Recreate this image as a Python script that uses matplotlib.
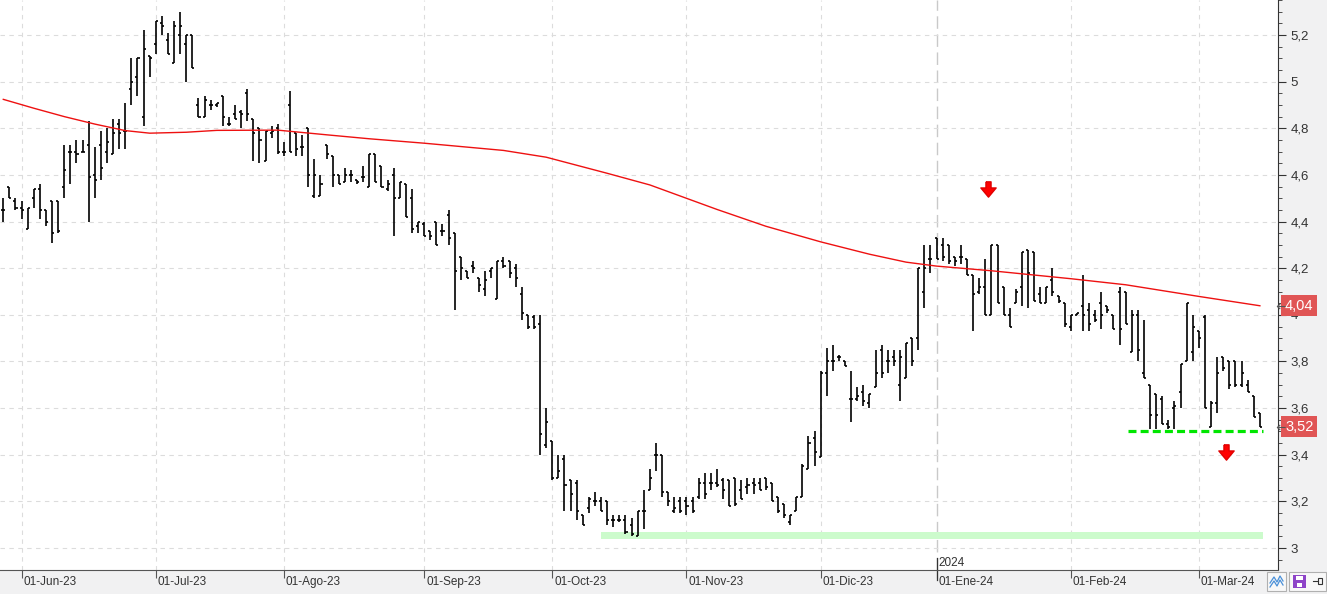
"""Gráfico de barras OHLC diario con media móvil, soporte y zona de mínimos."""
import matplotlib

matplotlib.use("Agg")
import matplotlib.pyplot as plt  # noqa: E402
import matplotlib.transforms as mtransforms  # noqa: E402
import numpy as np  # noqa: E402
import pandas as pd  # noqa: E402
from matplotlib.collections import LineCollection  # noqa: E402
from matplotlib.patches import Rectangle  # noqa: E402
from matplotlib.path import Path  # noqa: E402
from matplotlib.ticker import FuncFormatter, MultipleLocator  # noqa: E402

plt.rcParams["font.family"] = ["Liberation Sans", "DejaVu Sans"]

# --- datos ---------------------------------------------------------------
FIRST_DAY, LAST_DAY = "2023-05-29", "2024-03-15"
HOLIDAYS = ["2023-12-25", "2023-12-26", "2024-01-01"]

opens = [
    4.45, 4.55, 4.49, 4.46, 4.37, 4.50, 4.54, 4.45, 4.49, 4.49,
    4.55, 4.70, 4.70, 4.70, 4.73, 4.60, 4.73, 4.70, 4.69, 4.82,
    4.79, 4.97, 5.02, 4.85, 5.11, 5.16, 5.25, 5.18, 5.08, 5.20,
    5.16, 5.20, 4.90, 4.85, 4.90, 4.90, 4.94, 4.82, 4.86, 4.87,
    4.95, 4.84, 4.80, 4.66, 4.78, 4.80, 4.70, 4.90, 4.78, 4.72,
    4.80, 4.51, 4.51, 4.73, 4.68, 4.60, 4.57, 4.60, 4.58, 4.59,
    4.55, 4.69, 4.64, 4.54, 4.60, 4.50, 4.56, 4.50, 4.38, 4.39,
    4.36, 4.40, 4.36, 4.43, 4.35, 4.25, 4.19, 4.21, 4.16, 4.11,
    4.19, 4.07, 4.23, 4.23, 4.20, 4.09, 4.00, 3.99, 3.96, 3.44,
    3.46, 3.30, 3.38, 3.29, 3.28, 3.14, 3.17, 3.20, 3.20, 3.20,
    3.12, 3.12, 3.12, 3.10, 3.05, 3.16, 3.25, 3.40, 3.40, 3.24,
    3.16, 3.20, 3.20, 3.20, 3.22, 3.28, 3.28, 3.28, 3.29, 3.29,
    3.30, 3.25, 3.26, 3.28, 3.28, 3.30, 3.28, 3.22, 3.19, 3.11,
    3.16, 3.22, 3.34, 3.47, 3.39, 3.75, 3.80, 3.82, 3.80, 3.64,
    3.64, 3.67, 3.62, 3.69, 3.85, 3.80, 3.82, 3.70, 3.73, 3.90,
    3.90, 4.10, 4.24, 4.33, 4.30, 4.30, 4.25, 4.25, 4.24, 4.17,
    4.10, 4.12, 4.00, 4.30, 4.12, 4.00, 4.05, 4.12, 4.28, 4.27,
    4.09, 4.05, 4.15, 4.08, 4.05, 3.95, 4.00, 4.04, 4.02, 4.00,
    4.05, 4.04, 4.00, 4.10, 4.10, 3.84, 4.00, 3.75, 3.70, 3.66,
    3.64, 3.53, 3.60, 3.67, 3.80, 3.84, 3.93, 3.99, 3.52, 3.62,
    3.82, 3.80, 3.80, 3.70, 3.70, 3.65, 3.58,
]
highs = [
    4.50, 4.55, 4.50, 4.49, 4.46, 4.54, 4.56, 4.45, 4.49, 4.49,
    4.73, 4.73, 4.75, 4.75, 4.83, 4.72, 4.79, 4.80, 4.84, 4.84,
    4.91, 5.10, 5.10, 5.22, 5.11, 5.26, 5.28, 5.21, 5.26, 5.30,
    5.20, 5.20, 4.93, 4.94, 4.92, 4.91, 4.94, 4.85, 4.90, 4.88,
    4.97, 4.84, 4.80, 4.79, 4.81, 4.82, 4.74, 4.96, 4.78, 4.77,
    4.80, 4.67, 4.60, 4.73, 4.68, 4.60, 4.63, 4.62, 4.58, 4.64,
    4.69, 4.69, 4.64, 4.58, 4.63, 4.57, 4.56, 4.54, 4.40, 4.40,
    4.36, 4.40, 4.39, 4.45, 4.35, 4.25, 4.19, 4.23, 4.16, 4.19,
    4.20, 4.23, 4.25, 4.23, 4.22, 4.12, 4.00, 4.00, 4.00, 3.60,
    3.46, 3.40, 3.40, 3.29, 3.29, 3.14, 3.22, 3.24, 3.22, 3.20,
    3.14, 3.14, 3.14, 3.13, 3.16, 3.25, 3.34, 3.45, 3.40, 3.24,
    3.22, 3.22, 3.22, 3.22, 3.30, 3.32, 3.32, 3.34, 3.30, 3.29,
    3.30, 3.29, 3.30, 3.30, 3.30, 3.30, 3.28, 3.22, 3.19, 3.14,
    3.22, 3.36, 3.48, 3.50, 3.76, 3.86, 3.87, 3.83, 3.80, 3.76,
    3.69, 3.70, 3.66, 3.85, 3.87, 3.85, 3.85, 3.85, 3.88, 3.90,
    4.20, 4.30, 4.30, 4.33, 4.33, 4.30, 4.25, 4.30, 4.24, 4.17,
    4.16, 4.24, 4.30, 4.30, 4.12, 4.03, 4.11, 4.27, 4.28, 4.27,
    4.12, 4.12, 4.20, 4.08, 4.05, 4.00, 4.01, 4.17, 4.05, 4.02,
    4.10, 4.04, 4.00, 4.12, 4.10, 4.02, 4.02, 3.98, 3.70, 3.66,
    3.65, 3.55, 3.63, 3.79, 4.05, 4.00, 3.93, 4.00, 3.63, 3.82,
    3.82, 3.80, 3.80, 3.80, 3.72, 3.65, 3.58,
]
lows = [
    4.40, 4.50, 4.45, 4.41, 4.37, 4.46, 4.41, 4.38, 4.31, 4.35,
    4.50, 4.56, 4.65, 4.70, 4.40, 4.50, 4.58, 4.65, 4.69, 4.71,
    4.71, 4.90, 4.94, 4.81, 5.02, 5.12, 5.20, 5.12, 5.08, 5.12,
    5.00, 5.06, 4.85, 4.85, 4.88, 4.89, 4.81, 4.81, 4.84, 4.80,
    4.83, 4.66, 4.65, 4.66, 4.76, 4.69, 4.68, 4.70, 4.68, 4.68,
    4.55, 4.50, 4.51, 4.67, 4.55, 4.56, 4.57, 4.57, 4.56, 4.57,
    4.55, 4.57, 4.55, 4.53, 4.34, 4.50, 4.42, 4.35, 4.35, 4.34,
    4.32, 4.30, 4.34, 4.30, 4.02, 4.15, 4.16, 4.18, 4.10, 4.08,
    4.16, 4.07, 4.20, 4.16, 4.12, 3.98, 3.94, 3.94, 3.40, 3.43,
    3.29, 3.30, 3.16, 3.16, 3.12, 3.10, 3.15, 3.18, 3.16, 3.10,
    3.09, 3.11, 3.06, 3.05, 3.05, 3.08, 3.25, 3.33, 3.22, 3.18,
    3.15, 3.15, 3.14, 3.15, 3.21, 3.21, 3.25, 3.26, 3.21, 3.18,
    3.18, 3.21, 3.23, 3.23, 3.25, 3.25, 3.20, 3.15, 3.13, 3.10,
    3.16, 3.22, 3.34, 3.35, 3.39, 3.65, 3.76, 3.80, 3.78, 3.54,
    3.63, 3.61, 3.60, 3.69, 3.73, 3.75, 3.78, 3.63, 3.73, 3.78,
    3.85, 4.03, 4.18, 4.24, 4.23, 4.22, 4.21, 4.22, 4.17, 3.93,
    4.09, 4.00, 4.00, 4.05, 4.00, 3.95, 4.05, 4.04, 4.03, 4.06,
    4.05, 4.05, 4.08, 4.05, 3.95, 3.93, 4.00, 3.93, 3.93, 3.97,
    3.94, 4.01, 3.94, 3.87, 3.96, 3.84, 3.80, 3.73, 3.51, 3.51,
    3.53, 3.51, 3.51, 3.60, 3.80, 3.80, 3.86, 3.60, 3.52, 3.58,
    3.76, 3.68, 3.69, 3.69, 3.67, 3.56, 3.52,
]
closes = [
    4.45, 4.50, 4.46, 4.45, 4.46, 4.54, 4.45, 4.40, 4.35, 4.36,
    4.62, 4.70, 4.69, 4.70, 4.59, 4.58, 4.63, 4.74, 4.78, 4.78,
    4.79, 5.00, 5.10, 5.14, 5.10, 5.26, 5.24, 5.12, 5.24, 5.24,
    5.20, 5.06, 4.85, 4.92, 4.90, 4.91, 4.85, 4.82, 4.84, 4.86,
    4.86, 4.78, 4.75, 4.79, 4.79, 4.70, 4.70, 4.70, 4.71, 4.72,
    4.60, 4.60, 4.56, 4.69, 4.60, 4.56, 4.60, 4.60, 4.57, 4.59,
    4.69, 4.57, 4.55, 4.56, 4.50, 4.57, 4.42, 4.37, 4.40, 4.34,
    4.34, 4.30, 4.36, 4.33, 4.19, 4.20, 4.16, 4.20, 4.13, 4.15,
    4.20, 4.23, 4.21, 4.18, 4.16, 4.01, 3.95, 3.95, 3.49, 3.54,
    3.30, 3.33, 3.27, 3.23, 3.16, 3.10, 3.21, 3.20, 3.16, 3.12,
    3.12, 3.12, 3.07, 3.06, 3.16, 3.16, 3.30, 3.40, 3.24, 3.20,
    3.17, 3.16, 3.18, 3.16, 3.28, 3.23, 3.28, 3.27, 3.25, 3.18,
    3.19, 3.21, 3.27, 3.27, 3.25, 3.26, 3.20, 3.16, 3.14, 3.14,
    3.22, 3.35, 3.45, 3.41, 3.75, 3.80, 3.80, 3.82, 3.78, 3.64,
    3.65, 3.63, 3.66, 3.75, 3.75, 3.80, 3.80, 3.82, 3.88, 3.80,
    4.20, 4.20, 4.24, 4.24, 4.25, 4.23, 4.23, 4.25, 4.17, 4.09,
    4.12, 4.00, 4.30, 4.05, 4.00, 3.95, 4.10, 4.27, 4.18, 4.06,
    4.05, 4.12, 4.10, 4.06, 3.96, 4.00, 4.01, 4.00, 3.96, 3.98,
    4.00, 4.02, 3.94, 3.94, 3.96, 4.00, 3.85, 3.73, 3.57, 3.57,
    3.53, 3.52, 3.61, 3.79, 4.05, 3.95, 3.90, 3.60, 3.62, 3.75,
    3.77, 3.70, 3.70, 3.75, 3.67, 3.56, 3.52,
]

ma_dates = [
    "2023-05-29", "2023-06-05", "2023-06-12", "2023-06-19", "2023-06-26",
    "2023-06-30", "2023-07-10", "2023-07-17", "2023-07-31", "2023-08-10",
    "2023-08-21", "2023-09-01", "2023-09-20", "2023-09-29", "2023-10-13",
    "2023-10-24", "2023-11-08", "2023-11-20", "2023-12-01", "2023-12-13",
    "2023-12-21", "2024-01-02", "2024-01-15", "2024-02-01", "2024-02-14",
    "2024-03-01", "2024-03-15",
]
ma_values = [
    4.924, 4.886, 4.850, 4.818, 4.790,
    4.779, 4.783, 4.791, 4.792, 4.772,
    4.755, 4.736, 4.705, 4.676, 4.607,
    4.557, 4.452, 4.380, 4.313, 4.260,
    4.226, 4.209, 4.189, 4.155, 4.129,
    4.079, 4.039,
]

support_level = 3.50
support_from, support_to = "2024-02-14", "2024-03-15"
zone_low, zone_high = 3.04, 3.07
zone_from, zone_to = "2023-10-12", "2024-03-15"
arrow_dates = ["2024-01-12", "2024-03-07"]
arrow_prices = [4.54, 3.41]

MESES = {1: "Ene", 2: "Feb", 3: "Mar", 4: "Abr", 5: "May", 6: "Jun",
         7: "Jul", 8: "Ago", 9: "Sep", 10: "Oct", 11: "Nov", 12: "Dic"}

# --- eje de sesiones (sin huecos de fin de semana) ---------------------------
dates = pd.bdate_range(FIRST_DAY, LAST_DAY)
dates = dates[~dates.isin(pd.to_datetime(HOLIDAYS))]


def pos(day: str) -> int:
    return int(dates.get_loc(pd.Timestamp(day)))


W, H = 1327, 594
fig = plt.figure(figsize=(W / 100, H / 100), dpi=100, facecolor="#f1f1f2")
ax = fig.add_axes([0, 24 / H, 1278 / W, 570 / H])
ax.set_facecolor("white")
ax.set_xlim(-0.54, 208.97)
ax.set_ylim(2.906, 5.35)

# rejilla
month_start = [i for i in range(1, len(dates)) if dates[i].month != dates[i - 1].month]
year_start = [i for i in month_start if dates[i].month == 1]
ax.yaxis.set_major_locator(MultipleLocator(0.2))
ax.yaxis.set_minor_locator(MultipleLocator(0.05))
ax.grid(axis="y", which="major", color="#dcdcdc", lw=0.8, ls=(0, (4, 4)))
for i in month_start:
    if i in year_start:
        ax.axvline(i, color="#c9c9c9", lw=1.0, ls=(0, (9, 4)), zorder=0.5)
    else:
        ax.axvline(i, color="#dcdcdc", lw=0.8, ls=(0, (4, 4)), zorder=0.5)

# zona de mínimos
z0, z1 = pos(zone_from), pos(zone_to) + 0.5
ax.fill_between([z0, z1], zone_low, zone_high, color="#ccfbcc", lw=0, zorder=1)

# barras OHLC
half = 0.33
segs = []
for i, (o, hi, lo, c) in enumerate(zip(opens, highs, lows, closes)):
    segs.append([(i, min(lo, o, c)), (i, max(hi, o, c))])
    segs.append([(i - half, o), (i, o)])
    segs.append([(i, c), (i + half, c)])
ax.add_collection(LineCollection(segs, colors="black", linewidths=1.2,
                                 capstyle="butt", zorder=3))

# media móvil
ma_x = [pos(d) for d in ma_dates]
ax.plot(ma_x, ma_values, color="#ee1111", lw=1.0, zorder=4)

# soporte
ax.plot([pos(support_from) + 0.4, pos(support_to) + 0.5], [support_level] * 2,
        color="#00e600", lw=2.3, dashes=(2.5, 1.3), solid_capstyle="butt", zorder=4)

# flechas rojas
arrow = Path([(-2.5, 7.5), (2.5, 7.5), (2.5, 1.5), (7.5, 1.5), (0, -7.5),
              (-7.5, 1.5), (-2.5, 1.5), (-2.5, 7.5)])
ax.plot([pos(d) + 0.5 for d in arrow_dates], arrow_prices, ls="none",
        marker=arrow, markersize=11, color="#ff0000", mec="#e00000", zorder=5)

# eje Y a la derecha
ax.yaxis.tick_right()
ax.yaxis.set_major_formatter(FuncFormatter(lambda v, _: f"{v:g}".replace(".", ",")))
ax.tick_params(axis="y", which="major", length=6, color="#333333", labelsize=9.5,
               labelcolor="#333333", pad=3)
ax.tick_params(axis="y", which="minor", length=3, color="#333333")
for side in ("top", "left"):
    ax.spines[side].set_visible(False)
ax.spines["right"].set_color("#333333")
ax.spines["bottom"].set_color("#555555")

# eje X: meses
ax.set_xticks(month_start)
ax.set_xticklabels([])
ax.tick_params(axis="x", length=6, color="#555555")
shift = mtransforms.ScaledTranslation(2 / 100, 0, fig.dpi_scale_trans)
xtrans = ax.get_xaxis_transform() + shift
for i in month_start:
    d = dates[i]
    ax.text(i, -12 / 570, f"01-{MESES[d.month]}-{d.strftime('%y')}", transform=xtrans,
            ha="left", va="center", fontsize=8.5, color="#333333")
for i in year_start:
    ax.plot([i, i], [-10 / 570, 12 / 570], transform=ax.get_xaxis_transform(),
            color="#333333", lw=0.9, clip_on=False)
    ax.text(i, 7 / 570, str(dates[i].year), transform=xtrans, ha="left",
            va="center", fontsize=8.5, color="#333333")

# etiquetas de precio en el eje, con su flechita
ytrans = ax.get_yaxis_transform()
left_arrow = Path([(1, 0), (-1, 0), (-0.3, 0.6), (-1, 0), (-0.3, -0.6)],
                  [Path.MOVETO, Path.LINETO, Path.MOVETO, Path.LINETO, Path.LINETO])
for val in (ma_values[-1], closes[-1]):
    ax.text(1.0055, val, f"{val:.2f}".replace(".", ","), transform=ytrans,
            ha="left", va="center", fontsize=10.5, color="white", zorder=10,
            bbox=dict(boxstyle="square,pad=0.25", fc="#e05555", ec="none"))
    ax.plot([1.0024], [val], transform=ytrans, ls="none", marker=left_arrow,
            markersize=6, mfc="none", mec="#555555", mew=0.8, clip_on=False,
            zorder=10)


# iconos de la esquina inferior derecha
def px_rect(x0, y0, x1, y1, **kw):
    fig.add_artist(Rectangle((x0 / W, 1 - y1 / H), (x1 - x0) / W, (y1 - y0) / H,
                             transform=fig.transFigure, **kw))


px_rect(1267, 572, 1286, 591, fc="#f8f8f8", ec="#b0b0b0", lw=0.8)
px_rect(1289, 572, 1326, 591, fc="#f8f8f8", ec="#b0b0b0", lw=0.8)
px_rect(1293, 575, 1306, 588, fc="#8e44c8", ec="none")
px_rect(1296, 576, 1303, 580, fc="white", ec="none")
px_rect(1297, 583, 1302, 587, fc="white", ec="none")
zig_x = np.array([1270, 1274, 1277, 1280, 1283]) / W
for dy in (0, 4):
    zig_y = 1 - (np.array([585, 579, 584, 578, 583]) + dy - 2) / H
    fig.add_artist(plt.Line2D(zig_x, zig_y, transform=fig.transFigure,
                              color="#4a90d9", lw=0.9))
fig.add_artist(plt.Line2D([1313 / W, 1318 / W], [1 - 581 / H] * 2,
                          transform=fig.transFigure, color="#333333", lw=0.8))
px_rect(1318, 578, 1322, 584, fc="none", ec="#333333", lw=0.8)

fig.savefig("out.png", dpi=100, facecolor=fig.get_facecolor())
